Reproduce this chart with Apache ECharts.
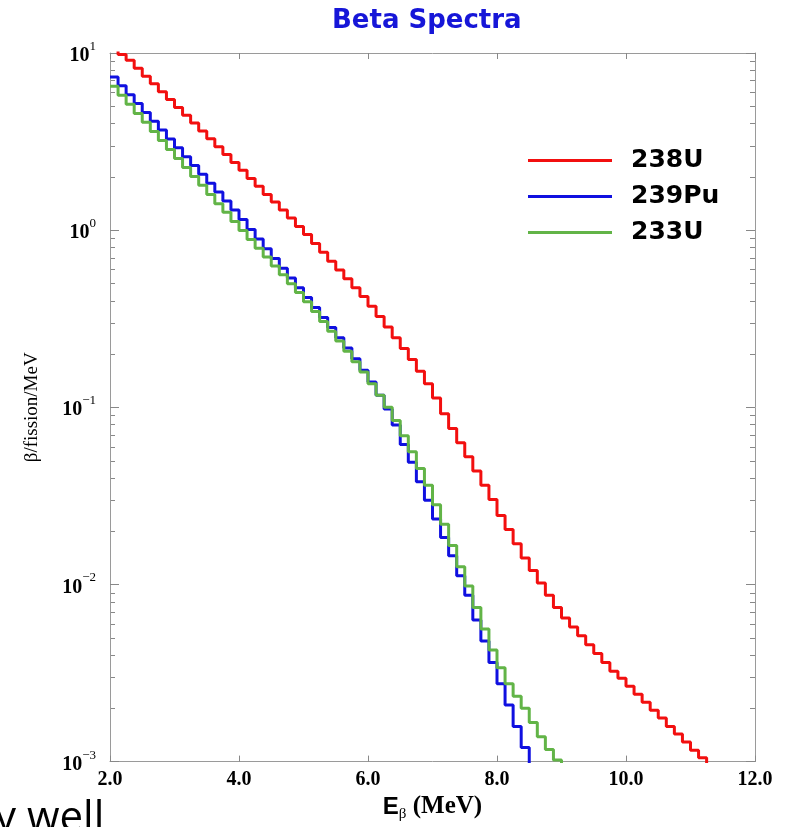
<!DOCTYPE html>
<html lang="en">
<head>
<meta charset="UTF-8">
<title>Beta Spectra</title>
<script src="https://cdn.jsdelivr.net/npm/echarts@6/dist/echarts.min.js"></script>
<style>
  html, body { margin: 0; padding: 0; background: #fff; }
  #main { width: 790px; height: 827px; }
</style>
</head>
<body>
<div id="main"></div>
<script>
  // histogram bins, 0.125 MeV wide, starting at 2.0 MeV
  const binStart = 2.0;
  const binWidth = 0.125;
  const dropTo = 0.0008; // below the axis, so the last bin drops to the frame

  // beta / fission / MeV, one value per bin
  const u238 = [
    11.0, 9.8, 9.1, 8.2, 7.4, 6.7, 6.05, 5.46, 4.93, 4.45, 4.02, 3.63, 3.28, 2.96, 2.67, 2.41,
    2.18, 1.96, 1.77, 1.59, 1.44, 1.30, 1.17, 1.05,
    0.944, 0.841, 0.750, 0.668, 0.596, 0.531, 0.473, 0.422,
    0.372, 0.326, 0.284, 0.247, 0.215, 0.186, 0.160, 0.136,
    0.113, 0.0920, 0.0759, 0.0631, 0.0525, 0.0437, 0.0363, 0.0302,
    0.0245, 0.0204, 0.0170, 0.0141, 0.0120, 0.0102, 0.0087, 0.0074,
    0.00646, 0.00575, 0.00513, 0.00457, 0.00407, 0.00363, 0.00324, 0.00295,
    0.00266, 0.00240, 0.00216, 0.00195, 0.00176, 0.00158, 0.00143, 0.00129, 0.00116, 0.00105
  ];
  const pu239 = [
    7.33, 6.53, 5.82, 5.19, 4.62, 4.12, 3.67, 3.27, 2.92, 2.60, 2.32, 2.07, 1.84, 1.64, 1.46, 1.30,
    1.15, 1.01, 0.891, 0.785, 0.692, 0.610, 0.537, 0.473,
    0.417, 0.366, 0.321, 0.282, 0.247, 0.216, 0.188, 0.162,
    0.139, 0.117, 0.0977, 0.0794, 0.0617, 0.0490, 0.0380, 0.0299,
    0.0234, 0.0184, 0.0145, 0.0112, 0.0087, 0.0063, 0.0048, 0.00363,
    0.00275, 0.00209, 0.00158, 0.0012
  ];
  const u233 = [
    6.49, 5.77, 5.13, 4.56, 4.06, 3.61, 3.21, 2.85, 2.54, 2.26, 2.01, 1.79, 1.59, 1.41, 1.26, 1.12,
    0.995, 0.887, 0.791, 0.705, 0.628, 0.560, 0.499, 0.445,
    0.394, 0.347, 0.305, 0.269, 0.237, 0.207, 0.181, 0.158,
    0.136, 0.117, 0.100, 0.0841, 0.0692, 0.0562, 0.0452, 0.0363,
    0.0282, 0.0219, 0.0166, 0.0126, 0.0098, 0.0074, 0.0056, 0.00427,
    0.00339, 0.00275, 0.00234, 0.00200, 0.00166, 0.00138, 0.00117, 0.00102
  ];
  const seriesNames = ["238U", "239Pu", "233U"];
  const seriesColors = ["#f20f0f", "#1010e0", "#62b447"];
  const xTicks = [2, 4, 6, 8, 10, 12];

  function toSteps(vals) {
    const pts = vals.map(function (v, i) {
      return [binStart + i * binWidth, v];
    });
    pts.push([binStart + vals.length * binWidth, dropTo]);
    return pts;
  }

  function supLabel(v) {
    const e = Math.round(Math.log10(v));
    return "{b|10}{s|" + (e < 0 ? "\u2212" + (-e) : e) + "}";
  }

  const frame = { show: true, lineStyle: { color: "#9a9a9a", width: 1 } };

  var chart = echarts.init(document.getElementById("main"));
  var option = {
    animation: false,
    backgroundColor: "#fff",
    title: {
      text: "Beta Spectra",
      left: 327,
      top: 3,
      textStyle: { fontFamily: "DejaVu Sans", fontWeight: "bold", fontSize: 26, color: "#1616d8" }
    },
    legend: {
      orient: "vertical",
      left: 523,
      top: 143,
      icon: "rect",
      itemWidth: 84,
      itemHeight: 3,
      itemGap: 11,
      selectedMode: false,
      data: seriesNames,
      textStyle: {
        fontFamily: "DejaVu Sans", fontWeight: "bold", fontSize: 25, color: "#000",
        padding: [0, 0, 0, 14]
      }
    },
    grid: { left: 110, right: 35, top: 53, bottom: 61 },
    xAxis: [
      {
        type: "value", min: xTicks[0], max: xTicks[xTicks.length - 1], interval: 2,
        axisLine: frame,
        axisTick: { show: true, inside: true, length: 6, lineStyle: { color: "#888" } },
        splitLine: { show: false },
        axisLabel: {
          formatter: function (v) { return v.toFixed(1); },
          fontFamily: "Liberation Serif", fontWeight: "bold", fontSize: 20, color: "#000", margin: 8
        },
        name: "{e|E}{g|\u03b2}{m| (MeV)}",
        nameLocation: "middle",
        nameGap: 22,
        nameTextStyle: {
          rich: {
            e: { fontFamily: "Liberation Sans", fontWeight: "bold", fontSize: 24, color: "#000", lineHeight: 30 },
            g: { fontFamily: "Liberation Serif", fontSize: 15, color: "#000", lineHeight: 14, verticalAlign: "bottom" },
            m: { fontFamily: "Liberation Serif", fontWeight: "bold", fontSize: 25, color: "#000", lineHeight: 30 }
          }
        }
      },
      {
        type: "value", position: "top", min: xTicks[0], max: xTicks[xTicks.length - 1], interval: 2,
        axisLine: frame,
        axisTick: { show: true, inside: true, length: 6, lineStyle: { color: "#888" } },
        axisLabel: { show: false },
        splitLine: { show: false }
      }
    ],
    yAxis: [
      {
        type: "log", logBase: 10, min: 0.001, max: 10,
        axisLine: frame,
        axisTick: { show: true, inside: true, length: 9, lineStyle: { color: "#888" } },
        splitLine: { show: false },
        axisLabel: {
          formatter: supLabel,
          margin: 14,
          rich: {
            b: { fontFamily: "Liberation Serif", fontWeight: "bold", fontSize: 20, color: "#000", lineHeight: 26, verticalAlign: "bottom" },
            s: { fontFamily: "Liberation Serif", fontSize: 13, color: "#000", lineHeight: 13, verticalAlign: "top" }
          }
        },
        name: "\u03b2/fission/MeV",
        nameLocation: "middle",
        nameRotate: 90,
        nameGap: 68,
        nameTextStyle: { fontFamily: "Liberation Serif", fontSize: 19, color: "#000" }
      },
      {
        type: "log", logBase: 10, min: 0.001, max: 10, position: "right",
        axisLine: frame,
        axisTick: { show: true, inside: true, length: 9, lineStyle: { color: "#888" } },
        axisLabel: { show: false },
        splitLine: { show: false }
      }
    ],
    series: [u238, pu239, u233].map(function (vals, k) {
      return {
        name: seriesNames[k],
        type: "line",
        step: "end",
        showSymbol: false,
        clip: true,
        data: toSteps(vals),
        color: seriesColors[k],
        lineStyle: { color: seriesColors[k], width: 3 }
      };
    }),
    graphic: [
      {
        type: "text", left: -5, top: 798,
        style: { text: "y well", font: '42px "Open Sans"', fill: "#000" }
      }
    ]
  };
  chart.setOption(option);

  // log minor ticks (2..9 in each decade) on both sides, placed by the axis scale
  var xl = chart.convertToPixel({ xAxisIndex: 0 }, xTicks[0]);
  var xr = chart.convertToPixel({ xAxisIndex: 0 }, xTicks[xTicks.length - 1]);
  var minor = [];
  for (let e = -3; e < 1; e++) {
    for (let m = 2; m <= 9; m++) {
      const y = Math.round(chart.convertToPixel({ yAxisIndex: 0 }, m * Math.pow(10, e))) + 0.5;
      minor.push({ type: "line", shape: { x1: xl, y1: y, x2: xl + 5, y2: y }, style: { stroke: "#888", lineWidth: 1 }, silent: true });
      minor.push({ type: "line", shape: { x1: xr - 5, y1: y, x2: xr, y2: y }, style: { stroke: "#888", lineWidth: 1 }, silent: true });
    }
  }
  chart.setOption({ graphic: option.graphic.concat(minor) });
</script>
</body>
</html>
